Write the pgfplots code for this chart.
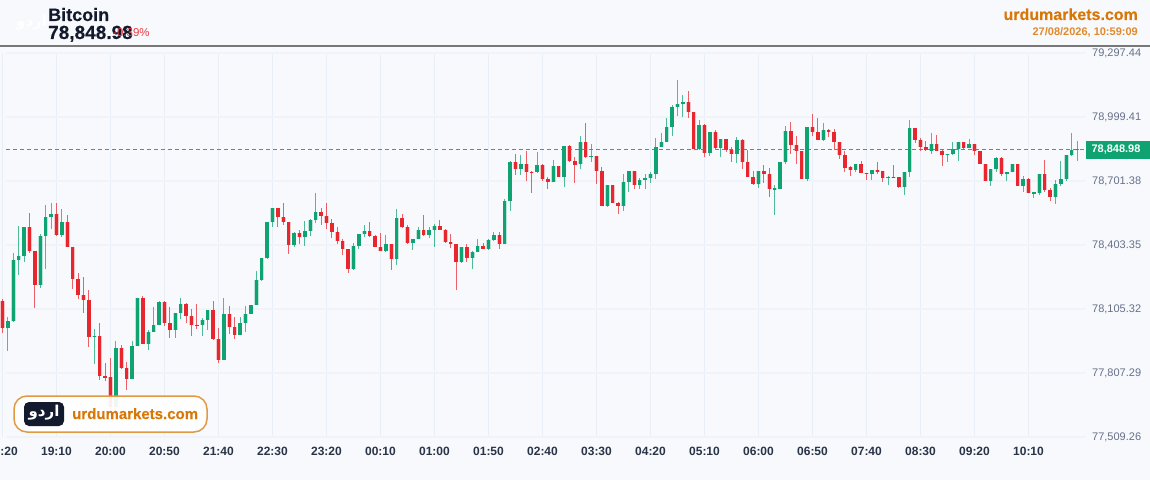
\documentclass[border=0pt]{standalone}
\usepackage{fontspec}
\setmainfont{Liberation Sans}
\newfontfamily\arabicfont[Script=Arabic]{DejaVu Sans}
\newfontfamily\fatfont[FakeBold=0.25]{Liberation Sans Bold}
\TeXXeTstate=1
\usepackage{pgfplots}
\usepackage{pgfplotstable}
\pgfplotsset{compat=1.18}
\definecolor{bg}{HTML}{F7F9FD}
\definecolor{hgrid}{HTML}{F0F3FA}
\definecolor{vgrid}{HTML}{E9EFF7}
\definecolor{upc}{HTML}{0EA371}
\definecolor{downc}{HTML}{E8262D}
\definecolor{orangec}{HTML}{D97706}
\definecolor{navy}{HTML}{131A2E}
\definecolor{pricec}{HTML}{667088}
\definecolor{timec}{HTML}{2A3447}
\pgfplotstableread{
i o h l c
1 78015 78068 77910 78049
2 78049 78365 78046 78332
3 78332 78492 78264 78352
4 78352 78487 78326 78487
7 78217 78455 78202 78445
8 78445 78590 78292 78532
9 78532 78598 78479 78548
11 78450 78570 78441 78512
17 77975 78011 77848 77979
21 77649 77956 77626 77924
24 77779 77956 77779 77932
25 77932 78155 77932 78155
27 77944 78008 77914 78000
28 78000 78116 78000 78031
29 78031 78143 78031 78137
32 78008 78085 77972 78085
33 78085 78157 78059 78129
37 78031 78062 77980 78055
38 78055 78101 78008 78101
41 77868 78158 77868 78082
44 77986 78069 77986 78039
45 78039 78119 77998 78083
46 78083 78124 78083 78124
47 78124 78282 78124 78240
48 78240 78341 78236 78341
49 78341 78509 78337 78509
50 78509 78574 78489 78574
54 78402 78464 78395 78461
56 78439 78515 78399 78469
57 78469 78526 78445 78520
58 78520 78644 78504 78557
65 78293 78411 78292 78400
66 78400 78453 78386 78453
67 78453 78498 78439 78467
71 78377 78449 78375 78407
73 78337 78570 78310 78528
76 78411 78431 78380 78431
77 78431 78486 78431 78473
79 78450 78486 78436 78472
80 78472 78501 78395 78492
85 78324 78393 78320 78393
87 78344 78375 78290 78371
88 78371 78431 78371 78400
90 78386 78433 78384 78427
91 78427 78462 78422 78449
93 78408 78616 78408 78610
94 78610 78796 78560 78790
96 78759 78824 78728 78780
99 78745 78836 78743 78776
102 78695 78799 78695 78770
104 78720 78863 78675 78863
107 78779 78912 78757 78883
109 78813 78872 78791 78818
112 78586 78683 78585 78683
115 78585 78734 78563 78695
116 78695 78747 78649 78747
118 78683 78715 78664 78705
119 78705 78734 78664 78714
120 78714 78745 78692 78735
121 78735 78900 78711 78860
122 78860 78925 78860 78884
123 78884 78996 78884 78953
124 78953 79055 78912 79045
125 79045 79170 79005 79060
126 79060 79102 78998 79069
129 78852 78984 78846 78962
131 78833 78928 78816 78928
133 78854 78897 78814 78897
136 78828 78905 78785 78894
140 78686 78747 78670 78746
143 78661 78683 78542 78669
144 78665 78788 78665 78788
145 78788 78958 78779 78933
149 78712 78954 78701 78954
152 78892 78973 78888 78938
158 78754 78782 78745 78782
161 78733 78751 78707 78751
164 78715 78726 78683 78720
167 78672 78745 78638 78745
168 78745 78985 78721 78947
172 78842 78924 78827 78872
175 78824 78828 78791 78828
176 78827 78884 78824 78852
177 78852 78882 78796 78882
179 78856 78897 78856 78874
183 78703 78756 78678 78756
184 78756 78813 78742 78810
186 78735 78742 78703 78742
187 78742 78782 78742 78779
189 78678 78725 78650 78709
191 78643 78648 78624 78648
192 78645 78733 78638 78733
195 78628 78705 78594 78687
196 78687 78796 78677 78711
197 78711 78821 78703 78821
198 78821 78924 78818 78844
199 78844 78888 78796 78849
}\upcandles
\pgfplotstableread{
i o h l c
0 78143 78151 77994 78015
5 78487 78551 78367 78375
6 78375 78375 78111 78217
10 78548 78599 78447 78450
12 78512 78543 78395 78395
13 78395 78395 78198 78244
14 78244 78273 78152 78170
15 78170 78256 78087 78146
16 78146 78194 77928 77975
18 77979 78039 77773 77792
19 77792 77852 77770 77784
20 77787 77877 77640 77649
22 77924 77936 77826 77832
23 77832 77857 77728 77779
26 78155 78164 77944 77944
30 78137 78143 78025 78040
31 78040 78113 77972 78008
34 78129 78132 78041 78073
35 78073 78104 77980 78032
36 78032 78129 78014 78026
39 78101 78143 77961 77964
40 77964 78015 77852 77868
42 78082 78119 77987 78020
43 78020 78069 77967 77986
51 78574 78574 78489 78532
52 78532 78598 78498 78510
53 78510 78510 78363 78402
55 78461 78473 78408 78439
59 78557 78574 78495 78538
60 78538 78598 78479 78507
61 78507 78523 78437 78464
62 78464 78486 78407 78423
63 78423 78430 78358 78383
64 78383 78383 78274 78293
68 78467 78510 78442 78445
69 78445 78449 78394 78395
70 78395 78458 78375 78377
72 78407 78407 78287 78337
74 78528 78548 78482 78486
75 78486 78496 78409 78411
78 78473 78543 78445 78450
81 78492 78520 78475 78475
82 78475 78478 78413 78417
83 78417 78455 78389 78408
84 78408 78408 78194 78324
86 78393 78408 78324 78344
89 78400 78411 78384 78386
92 78449 78462 78386 78408
95 78790 78827 78731 78759
97 78780 78842 78703 78745
98 78745 78746 78647 78740
100 78776 78779 78701 78711
101 78711 78720 78664 78698
103 78770 78770 78720 78720
105 78863 78869 78790 78794
106 78794 78812 78692 78776
108 78883 78973 78808 78813
110 78818 78818 78689 78748
111 78748 78766 78586 78586
113 78683 78683 78600 78600
114 78600 78602 78549 78585
117 78747 78747 78664 78683
127 79069 79120 78996 79021
128 79021 79021 78852 78852
130 78962 78967 78813 78833
132 78928 78937 78850 78854
134 78897 78897 78835 78844
135 78844 78860 78791 78828
137 78894 78898 78757 78790
138 78790 78846 78718 78719
139 78719 78748 78683 78686
141 78746 78776 78691 78734
142 78734 78762 78628 78665
146 78933 78975 78828 78869
147 78869 78912 78779 78840
148 78840 78840 78712 78712
150 78954 79013 78910 78928
151 78928 78993 78892 78892
153 78939 78944 78908 78931
154 78931 78944 78846 78881
155 78881 78881 78804 78822
156 78822 78842 78745 78763
157 78765 78773 78723 78754
159 78780 78795 78738 78739
160 78740 78740 78706 78734
162 78751 78788 78733 78745
163 78748 78748 78698 78714
165 78720 78774 78716 78716
166 78718 78718 78667 78672
169 78947 78947 78877 78892
170 78892 78900 78840 78860
171 78860 78886 78842 78847
173 78873 78916 78842 78842
174 78842 78849 78771 78824
178 78882 78882 78849 78856
180 78874 78874 78821 78842
181 78842 78842 78780 78780
182 78780 78780 78703 78703
185 78810 78814 78726 78732
188 78779 78779 78678 78678
190 78709 78717 78645 78645
193 78733 78799 78651 78658
194 78658 78670 78608 78628
}\downcandles
\pgfplotstableread{
x y
0.7 78848.98
2.0 78848.98
3.3 78848.98
4.6 78848.98
5.9 78848.98
7.2 78848.98
8.5 78848.98
9.8 78848.98
11.1 78848.98
12.4 78848.98
13.7 78848.98
15.0 78848.98
16.3 78848.98
17.6 78848.98
18.9 78848.98
20.2 78848.98
21.5 78848.98
22.8 78848.98
24.1 78848.98
25.4 78848.98
26.7 78848.98
28.0 78848.98
29.3 78848.98
30.6 78848.98
31.9 78848.98
33.2 78848.98
34.5 78848.98
35.8 78848.98
37.1 78848.98
38.4 78848.98
39.7 78848.98
41.0 78848.98
42.3 78848.98
43.6 78848.98
44.9 78848.98
46.2 78848.98
47.5 78848.98
48.8 78848.98
50.1 78848.98
51.4 78848.98
52.7 78848.98
54.0 78848.98
55.3 78848.98
56.6 78848.98
57.9 78848.98
59.2 78848.98
60.5 78848.98
61.8 78848.98
63.1 78848.98
64.4 78848.98
65.7 78848.98
67.0 78848.98
68.3 78848.98
69.6 78848.98
70.9 78848.98
72.2 78848.98
73.5 78848.98
74.8 78848.98
76.1 78848.98
77.4 78848.98
78.7 78848.98
80.0 78848.98
81.3 78848.98
82.6 78848.98
83.9 78848.98
85.2 78848.98
86.5 78848.98
87.8 78848.98
89.1 78848.98
90.4 78848.98
91.7 78848.98
93.0 78848.98
94.3 78848.98
95.6 78848.98
96.9 78848.98
98.2 78848.98
99.5 78848.98
100.8 78848.98
102.1 78848.98
103.4 78848.98
104.7 78848.98
106.0 78848.98
107.3 78848.98
108.6 78848.98
109.9 78848.98
111.2 78848.98
112.5 78848.98
113.8 78848.98
115.1 78848.98
116.4 78848.98
117.7 78848.98
119.0 78848.98
120.3 78848.98
121.6 78848.98
122.9 78848.98
124.2 78848.98
125.5 78848.98
126.8 78848.98
128.1 78848.98
129.4 78848.98
130.7 78848.98
132.0 78848.98
133.3 78848.98
134.6 78848.98
135.9 78848.98
137.2 78848.98
138.5 78848.98
139.8 78848.98
141.1 78848.98
142.4 78848.98
143.7 78848.98
145.0 78848.98
146.3 78848.98
147.6 78848.98
148.9 78848.98
150.2 78848.98
151.5 78848.98
152.8 78848.98
154.1 78848.98
155.4 78848.98
156.7 78848.98
158.0 78848.98
159.3 78848.98
160.6 78848.98
161.9 78848.98
163.2 78848.98
164.5 78848.98
165.8 78848.98
167.1 78848.98
168.4 78848.98
169.7 78848.98
171.0 78848.98
172.3 78848.98
173.6 78848.98
174.9 78848.98
176.2 78848.98
177.5 78848.98
178.8 78848.98
180.1 78848.98
181.4 78848.98
182.7 78848.98
184.0 78848.98
185.3 78848.98
186.6 78848.98
187.9 78848.98
189.2 78848.98
190.5 78848.98
191.8 78848.98
193.1 78848.98
194.4 78848.98
195.7 78848.98
197.0 78848.98
198.3 78848.98
199.6 78848.98
}\lastprice
\newcommand\wicks[2]{%
  \addplot[draw=none, no markers, forget plot, error bars/.cd, y dir=both, y explicit, error mark=none,
    error bar style={line width=1pt, draw=#2, opacity=0.72, line cap=butt}]
    table[x=i, y=o, y error plus expr=\thisrow{h}-\thisrow{o}, y error minus expr=\thisrow{o}-\thisrow{l}] {#1};}
\newcommand\bodies[4]{%
  \addplot[draw=none, no markers, forget plot, error bars/.cd, y dir=both, y explicit, error mark=none,
    error bar style={line width=#3, draw=#2, opacity=#4, line cap=butt}]
    table[x=i, y=o, y error plus expr={max(\thisrow{c}-\thisrow{o},0)}, y error minus expr={max(\thisrow{o}-\thisrow{c},0)}] {#1};}
\begin{document}
\begin{tikzpicture}[x=1pt,y=1pt]
\useasboundingbox (0,0) rectangle (1150,480);
\clip (0,0) rectangle (1150,480);
\fill[bg] (0,0) rectangle (1150,480);
\begin{axis}[
  at={(0pt,43pt)}, anchor=south west,
  scale only axis, width=1086pt, height=384pt,
  xmin=-0.46296, xmax=200.648, ymin=77509.26, ymax=79297.44,
  axis line style={draw=none}, major tick length=0pt,
  xmajorgrids, x grid style={vgrid, line width=1pt},
  xtick={0,10,...,190},
  xticklabels={18:20,19:10,20:00,20:50,21:40,22:30,23:20,00:10,01:00,01:50,02:40,03:30,04:20,05:10,06:00,06:50,07:40,08:30,09:20,10:10},
  x tick label style={font=\fontsize{12}{14}\selectfont\bfseries, text=timec, inner sep=0pt, anchor=center, yshift=-14pt},
  ytick={77509.26,77807.29,78105.32,78403.35,78701.38,78999.41,79297.44},
  yticklabels={{77,509.26},{77,807.29},{78,105.32},{78,403.35},{78,701.38},{78,999.41},{79,297.44}},
  ytick pos=right, yticklabel pos=right,
  y tick label style={font=\fontsize{11}{13}\selectfont, text=pricec, inner sep=0pt, anchor=west, xshift=6pt, yshift=-0.7pt},
  clip=true,
]
\addplot[hgrid, line width=1.6pt, forget plot] coordinates {(0.65,77509.26)(200.648,77509.26)};
\addplot[hgrid, line width=1.6pt, forget plot] coordinates {(0.65,77807.29)(200.648,77807.29)};
\addplot[hgrid, line width=1.6pt, forget plot] coordinates {(0.65,78105.32)(200.648,78105.32)};
\addplot[hgrid, line width=1.6pt, forget plot] coordinates {(0.65,78403.35)(200.648,78403.35)};
\addplot[hgrid, line width=1.6pt, forget plot] coordinates {(0.65,78701.38)(200.648,78701.38)};
\addplot[hgrid, line width=1.6pt, forget plot] coordinates {(0.65,78999.41)(200.648,78999.41)};
\addplot[hgrid, line width=1.6pt, forget plot] coordinates {(0.65,79297.44)(200.648,79297.44)};
\wicks{\upcandles}{upc}
\wicks{\downcandles}{downc}
\bodies{\upcandles}{upc}{4.4pt}{0.25}
\bodies{\downcandles}{downc}{4.4pt}{0.25}
\bodies{\upcandles}{upc}{3.4pt}{1}
\bodies{\downcandles}{downc}{3.4pt}{1}
\addplot[draw=none, no markers, forget plot, error bars/.cd, x dir=plus, x fixed=0.74, error mark=none,
    error bar style={line width=1.4pt, draw=upc, opacity=0.9, line cap=butt}]
    table[x=x, y=y] {\lastprice};
\end{axis}
% price tag
\fill[upc] (1086,321) rectangle (1150,338.5);
\node[anchor=center, text=white, font=\fontsize{11}{13}\selectfont\bfseries, inner sep=0pt] at (1116,330) {78,848.98};
% header
\fill[bg] (0,434) rectangle (1150,480);
\fill[black!53] (0,433.4) rectangle (1150,434.8);
\node[anchor=base west, text=white, font=\arabicfont\fontsize{15}{20}\selectfont\bfseries, inner sep=0pt] at (16,453) {\beginR اردو\endR};
\node[anchor=base west, text=navy, font=\fatfont\fontsize{18}{20}\selectfont, inner sep=0pt] at (48,459) {Bitcoin};
\node[anchor=base west, text=navy, font=\fatfont\fontsize{19}{21}\selectfont, inner sep=0pt] at (48,441) {78,848.98};
\node[anchor=base west, text=downc!90, font=\fontsize{11.5}{14}\selectfont, inner sep=0pt] at (113,443.5) {-0.39\%};
\node[anchor=base east, text=orangec, font=\fatfont\fontsize{16}{18}\selectfont, inner sep=0pt] at (1138,460) {urdumarkets.com};
\node[anchor=base east, text=orangec!85, font=\fontsize{11}{13}\selectfont\bfseries, inner sep=0pt] at (1138,444) {27/08/2026, 10:59:09};
% badge
\draw[orangec!75!white, line width=1.5pt, fill=white, fill opacity=0.93, rounded corners=13pt] (14,48) rectangle (207,84);
\fill[navy, rounded corners=5pt] (24,54) rectangle (64,78);
\node[anchor=center, text=white, font=\arabicfont\fontsize{15}{17}\selectfont\bfseries, inner sep=0pt] at (44,67) {\beginR اردو\endR};
\node[anchor=base west, text=orangec, font=\fatfont\fontsize{15}{17}\selectfont, inner sep=0pt] at (72,61) {urdumarkets.com};
\end{tikzpicture}
\end{document}
